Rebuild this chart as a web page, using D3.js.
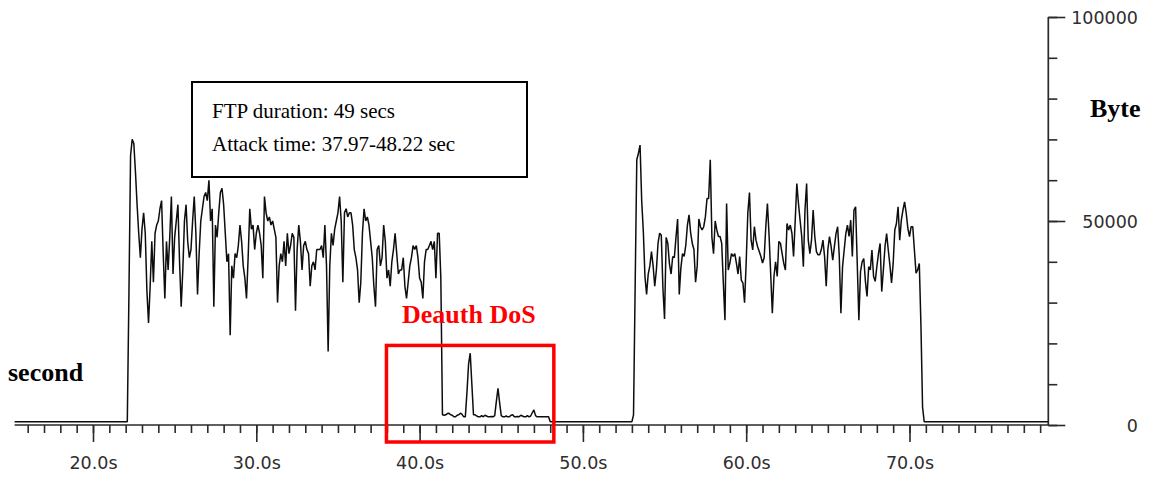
<!DOCTYPE html>
<html>
<head>
<meta charset="utf-8">
<script src="https://cdn.jsdelivr.net/npm/d3@7"></script>
<style>
  html, body { margin: 0; padding: 0; background: #fff; }
  svg { display: block; }
</style>
</head>
<body>
<svg id="chart" width="1154" height="477"></svg>
<script>
// FTP throughput over Wi-Fi, bytes per 0.1 s tick, with a deauthentication DoS window.
const sampleStep = 0.1;          // seconds per sample
const idleBytes = 800;           // background traffic when no transfer runs
const traceStart = 15.2;         // first and last time on the trace (s)
const traceEnd = 78.5;

// first FTP transfer, samples every 0.1 s from 22.2 s
const burst1Start = 22.2;
const burst1Bytes = [
  32000, 66000, 70000, 69000, 62000, 54000, 47000, 41000, 48000, 52000,
  47000, 33000, 25000, 34000, 45000, 35000, 47000, 49000, 50000, 53000,
  55000, 42000, 31000, 45000, 38000, 46000, 56000, 37000, 46000, 50000,
  54000, 40000, 29000, 38000, 50000, 54000, 45000, 41000, 43000, 50000,
  56000, 47000, 32000, 42000, 50000, 53000, 56000, 57000, 55000, 60000,
  50000, 53000, 29000, 49000, 46000, 52000, 57000, 58000, 54000, 47000,
  40000, 42000, 22000, 39000, 36000, 42000, 41000, 44000, 49000, 45000,
  39000, 36000, 31000, 41000, 53000, 48000, 49000, 43000, 47000, 49000,
  47000, 44000, 36000, 56000, 52000, 50000, 51000, 49000, 50000, 48000,
  46000, 30000, 39000, 42000, 40000, 45000, 39000, 47000, 42000, 44000,
  47000, 46000, 28000, 43000, 49000, 45000, 38000, 44000, 45000, 43000,
  42000, 34000, 39000, 40000, 38000, 43000, 43000, 43000, 44000, 41000,
  49000, 39000, 18000, 39000, 47000, 44000, 48000, 50000, 52000, 56000,
  50000, 35000, 52000, 53000, 51000, 52000, 52000, 49000, 43000, 41000,
  38000, 30000, 35000, 47000, 53000, 50000, 51000, 49000, 45000, 41000,
  34000, 29000, 43000, 44000, 39000, 41000, 49000, 45000, 36000, 38000,
  34000, 40000, 43000, 47000, 42000, 37000, 38000, 38000, 41000, 34000,
  31000, 35000, 39000, 41000, 44000, 43000, 44000, 41000, 36000, 35000,
  31000, 40000, 43000, 43000, 44000, 45000, 43000, 45000, 36000, 47000,
  47000, 36000
];

// residual traffic during the deauthentication attack, from 41.4 s
const dosStart = 41.4;
const dosBytes = [
  2500, 2400, 2500, 2800, 2900, 2500, 2400, 2000, 2000, 2400,
  2500, 2900, 2600, 2000, 2000, 8000, 15000, 17600, 10000, 2500,
  2500, 2200, 2000, 2000, 2300, 2000, 2400, 2200, 2000, 2000,
  2100, 2000, 2300, 5800, 9000, 5500, 2300, 2000, 2000, 2200,
  2000, 2000, 2400, 2500, 2000, 2000, 2100, 2000, 2400, 2200,
  2000, 2000, 2300, 2000, 2200, 3000, 3700, 2300, 2000, 2000,
  2000, 2000, 2000, 2000, 2000, 2000
];

// second FTP transfer after reassociation, from 53.1 s
const burst2Start = 53.1;
const burst2Bytes = [
  2500,
  34000, 65000, 66600, 68600, 55000, 47500, 36400, 32000, 37000, 39000,
  42500, 39000, 34000, 38000, 44500, 47000, 46500, 33500, 26000, 46000,
  44500, 39500, 37000, 41300, 41000, 46000, 50500, 32000, 38500, 42000,
  41300, 44000, 49000, 51500, 47000, 44500, 43000, 35000, 39000, 50500,
  48600, 47800, 48600, 51000, 55500, 55500, 65000, 46000, 42000, 50000,
  47800, 46200, 46200, 44500, 34800, 25700, 54300, 38000, 39700, 42000,
  41300, 42000, 39700, 37000, 41300, 35500, 34800, 30000, 40000, 52000,
  57000, 45300, 42900, 48600, 45300, 43700, 42500, 41300, 39700, 41000,
  48600, 54300, 46500, 37000, 27400, 36400, 40000, 36400, 45000, 44500,
  42000, 39600, 38000, 49400, 47800, 49000, 47000, 41300, 50000, 59200,
  54300, 50200, 46200, 38800, 52700, 59200, 45300, 42000, 45300, 52700,
  46200, 42500, 41700, 41700, 43000, 45300, 41300, 34000, 43000, 46200,
  43700, 40400, 43700, 46900, 48600, 41300, 27400, 38800, 42900, 46900,
  49000, 46200, 50200, 41300, 52700, 53500, 39600, 25700, 37600, 40000,
  40800, 35200, 31500, 38800, 38000, 42900, 36400, 35200, 38800, 42000,
  44500, 32700, 38000, 43700, 46900, 42900, 39200, 34800, 39600, 47800,
  49400, 53500, 45300, 50200, 52700, 54700, 51900, 48200, 46200, 48600,
  48600, 42900, 37200, 38000, 39600, 24500, 4400
];

// axes
const xMajorTicks = [20, 30, 40, 50, 60, 70];
const xTickLabels = ["20.0s", "30.0s", "40.0s", "50.0s", "60.0s", "70.0s"];
const xMinorTicks = d3.range(16, 79, 1);
const yMajorTicks = [0, 50000, 100000];
const yTickLabels = ["0", "50000", "100000"];
const yMinorTicks = d3.range(0, 100001, 10000);

// annotations
const attackWindow = [37.97, 48.22];
const attackBoxTopBytes = 19500;
const infoLines = ["FTP duration: 49 secs", "Attack time: 37.97-48.22 sec"];

// ---- build the trace ----
function placed(start, values) {
  return values.map((v, i) => ({ t: start + i * sampleStep, v }));
}
const trace = [
  { t: traceStart, v: idleBytes },
  { t: burst1Start - sampleStep, v: idleBytes },
  ...placed(burst1Start, burst1Bytes),
  ...placed(dosStart, dosBytes),
  { t: dosStart + dosBytes.length * sampleStep, v: idleBytes },
  { t: burst2Start - sampleStep, v: idleBytes },
  ...placed(burst2Start, burst2Bytes),
  { t: burst2Start + burst2Bytes.length * sampleStep, v: idleBytes },
  { t: traceEnd, v: idleBytes }
];

const svg = d3.select("#chart");
svg.append("rect").attr("width", 1154).attr("height", 477).attr("fill", "#fff");

const x = d3.scaleLinear().domain([20, 70]).range([93, 909.5]);
const y = d3.scaleLinear().domain([0, 100000]).range([425, 17]);
const axisX = x(traceEnd);
const axisColor = "#2a2a2a";
const tickFont = "'DejaVu Sans', Verdana, sans-serif";

// bottom axis
svg.append("line")
  .attr("x1", x(traceStart)).attr("x2", axisX)
  .attr("y1", y(0)).attr("y2", y(0))
  .attr("stroke", axisColor).attr("stroke-width", 1.7);

const minorX = svg.append("g").attr("transform", `translate(0,${y(0)})`)
  .call(d3.axisBottom(x).tickValues(xMinorTicks).tickSize(8).tickFormat(""));
const majorX = svg.append("g").attr("transform", `translate(0,${y(0)})`)
  .call(d3.axisBottom(x).tickValues(xMajorTicks).tickSize(17).tickPadding(15)
    .tickFormat((d, i) => xTickLabels[i]));
[minorX, majorX].forEach(g => {
  g.select(".domain").remove();
  g.selectAll(".tick line").attr("stroke", axisColor).attr("stroke-width", 1.6);
});
majorX.selectAll(".tick text")
  .attr("font-family", tickFont).attr("font-size", 17.5).attr("fill", "#2e2e2e");

// right axis
svg.append("line")
  .attr("x1", axisX).attr("x2", axisX)
  .attr("y1", y(100000)).attr("y2", y(0))
  .attr("stroke", axisColor).attr("stroke-width", 1.7);
const minorY = svg.append("g").attr("transform", `translate(${axisX},0)`)
  .call(d3.axisRight(y).tickValues(yMinorTicks).tickSize(9).tickFormat(""));
const majorY = svg.append("g").attr("transform", `translate(${axisX},0)`)
  .call(d3.axisRight(y).tickValues(yMajorTicks).tickSize(17).tickFormat(""));
[minorY, majorY].forEach(g => {
  g.select(".domain").remove();
  g.selectAll(".tick line").attr("stroke", axisColor).attr("stroke-width", 1.6);
});
svg.append("g").selectAll("text")
  .data(yMajorTicks)
  .join("text")
  .attr("x", 1138)
  .attr("y", d => y(d) + 6.5)
  .attr("text-anchor", "end")
  .attr("font-family", tickFont)
  .attr("font-size", 17.5)
  .attr("fill", "#2e2e2e")
  .text((d, i) => yTickLabels[i]);

// trace
const line = d3.line().x(d => x(d.t)).y(d => y(d.v));
svg.append("path")
  .datum(trace)
  .attr("d", line)
  .attr("fill", "none")
  .attr("stroke", "#0d0d0d")
  .attr("stroke-width", 1.5)
  .attr("stroke-linejoin", "bevel");

// attack window
svg.append("rect")
  .attr("x", x(attackWindow[0]))
  .attr("y", y(attackBoxTopBytes))
  .attr("width", x(attackWindow[1]) - x(attackWindow[0]))
  .attr("height", (y(0) + 17) - y(attackBoxTopBytes))
  .attr("fill", "none")
  .attr("stroke", "#ff0000")
  .attr("stroke-width", 3.5);

svg.append("text")
  .attr("x", 402).attr("y", 323)
  .attr("font-family", "'Liberation Serif', 'Times New Roman', serif")
  .attr("font-weight", "bold")
  .attr("font-size", 26)
  .attr("fill", "#ff0000")
  .text("Deauth DoS");

// info box
svg.append("rect")
  .attr("x", 192).attr("y", 82).attr("width", 335).attr("height", 95)
  .attr("fill", "#fff").attr("stroke", "#000").attr("stroke-width", 2);
svg.append("g").selectAll("text")
  .data(infoLines)
  .join("text")
  .attr("x", 212)
  .attr("y", (d, i) => 118 + i * 33)
  .attr("font-family", "'Liberation Serif', 'Times New Roman', serif")
  .attr("font-size", 21)
  .attr("fill", "#000")
  .text(d => d);

// axis titles
const titleFont = "'Liberation Serif', 'Times New Roman', serif";
svg.append("text")
  .attr("x", 1090).attr("y", 117)
  .attr("font-family", titleFont).attr("font-weight", "bold").attr("font-size", 26)
  .attr("fill", "#000").text("Byte");
svg.append("text")
  .attr("x", 8).attr("y", 381)
  .attr("font-family", titleFont).attr("font-weight", "bold").attr("font-size", 26)
  .attr("fill", "#000").text("second");
</script>
</body>
</html>
